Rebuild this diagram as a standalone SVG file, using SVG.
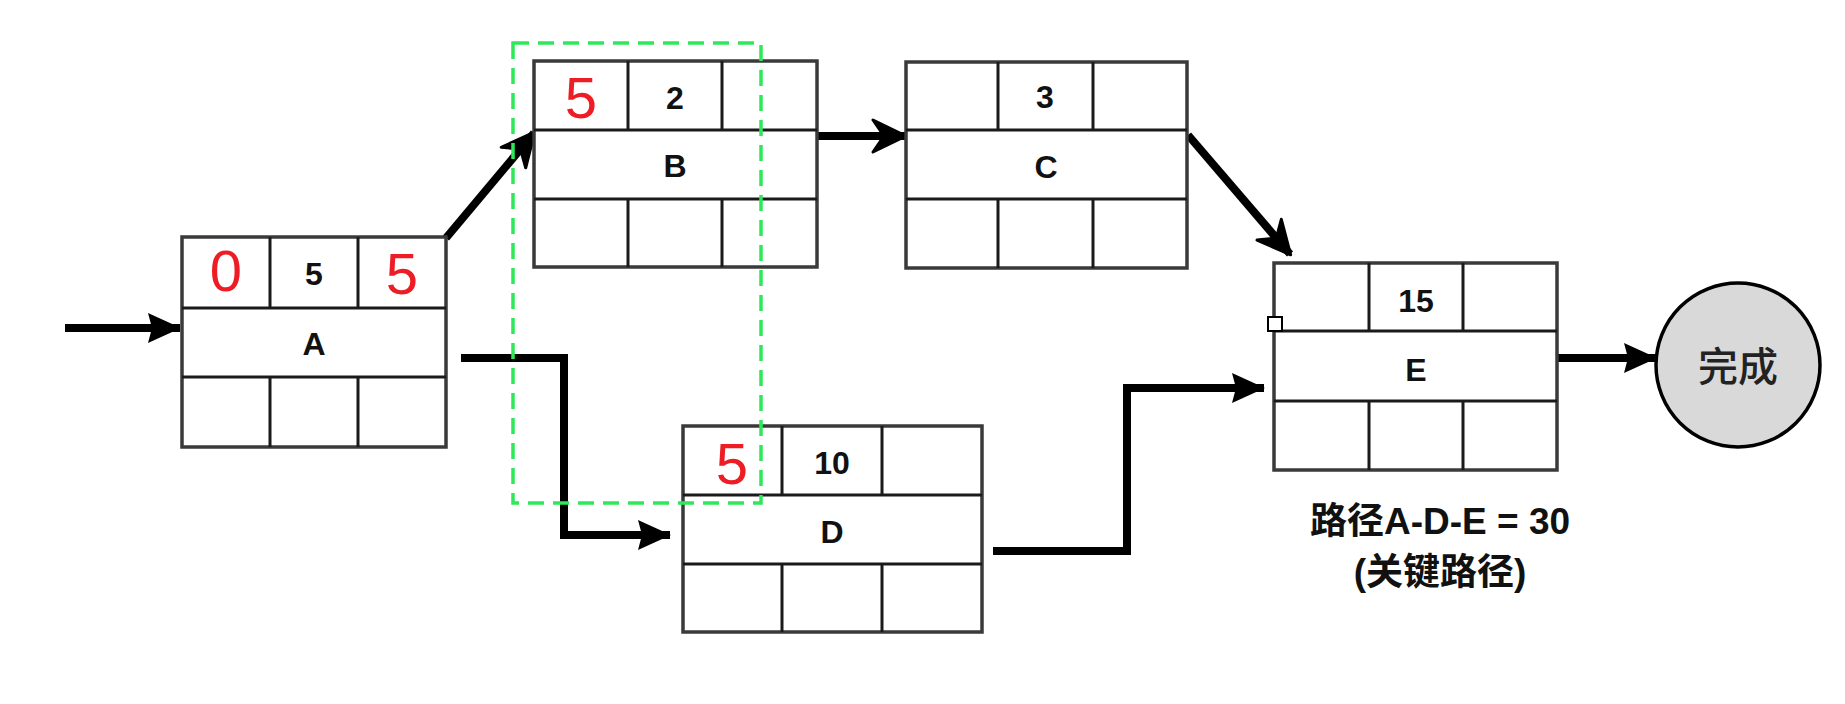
<svg xmlns="http://www.w3.org/2000/svg" width="1845" height="704" viewBox="0 0 1845 704">
<style>
.box{fill:#fff;stroke:#3a3a3a;stroke-width:3.5}
.div{stroke:#1a1a1a;stroke-width:3;fill:none}
.t{font-family:"Liberation Sans",Arial,sans-serif;font-weight:bold;font-size:32px;fill:#111;text-anchor:middle}
.r{font-family:"Liberation Sans",Arial,sans-serif;font-size:58px;fill:#ee1c24;text-anchor:middle}
.conn{fill:none;stroke:#000;stroke-width:8;stroke-linejoin:miter}
.cap{font-family:"Liberation Sans","Noto Sans CJK SC",sans-serif;font-weight:bold;font-size:37px;fill:#111;text-anchor:middle}
</style>
<defs>
<marker id="tri" markerUnits="userSpaceOnUse" markerWidth="36" markerHeight="34" refX="32" refY="16" orient="auto">
<path d="M0,1 L33,16 L0,31 L4,16 Z" fill="#000"/>
</marker>
<marker id="chev" markerUnits="userSpaceOnUse" markerWidth="40" markerHeight="40" refX="34" refY="19" orient="auto">
<path d="M2,3 L35,19 L2,35 L13,19 Z" fill="#000" stroke="#000" stroke-width="3" stroke-linejoin="round"/>
</marker>
</defs>
<rect width="1845" height="704" fill="#fff"/>

<g id="connectors">
<line class="conn" x1="65" y1="328" x2="180" y2="328" marker-end="url(#tri)"/>
<line class="conn" x1="446" y1="238" x2="534" y2="133" marker-end="url(#chev)"/>
<line class="conn" x1="818" y1="136" x2="905" y2="136" marker-end="url(#chev)"/>
<line class="conn" x1="1188" y1="135" x2="1290" y2="254" marker-end="url(#chev)"/>
<polyline class="conn" points="461,358 564,358 564,535 670,535" marker-end="url(#tri)"/>
<polyline class="conn" points="993,551 1127,551 1127,388 1264,388" marker-end="url(#tri)"/>
<line class="conn" x1="1557" y1="358" x2="1656" y2="358" stroke-width="10" marker-end="url(#tri)"/>
</g>

<g id="node-A">
<rect class="box" x="182" y="237" width="264" height="210"/>
<path class="div" d="M182,308 H446 M182,377 H446 M270,237 V308 M358,237 V308 M270,377 V447 M358,377 V447"/>
<text class="r" x="226" y="291">0</text>
<text class="t" x="314" y="285">5</text>
<text class="r" x="402" y="294">5</text>
<text class="t" x="314" y="355">A</text>
</g>

<g id="node-B">
<rect class="box" x="534" y="61" width="283" height="206"/>
<path class="div" d="M534,130 H817 M534,199 H817 M628,61 V130 M722,61 V130 M628,199 V267 M722,199 V267"/>
<text class="r" x="581" y="118">5</text>
<text class="t" x="675" y="109">2</text>
<text class="t" x="675" y="177">B</text>
</g>

<g id="node-C">
<rect class="box" x="906" y="62" width="281" height="206"/>
<path class="div" d="M906,130 H1187 M906,199 H1187 M998,62 V130 M1093,62 V130 M998,199 V268 M1093,199 V268"/>
<text class="t" x="1045" y="108">3</text>
<text class="t" x="1046" y="178">C</text>
</g>

<g id="node-D">
<rect class="box" x="683" y="426" width="299" height="206"/>
<path class="div" d="M683,495 H982 M683,564 H982 M782,426 V495 M882,426 V495 M782,564 V632 M882,564 V632"/>
<text class="r" x="732" y="484">5</text>
<text class="t" x="832" y="474">10</text>
<text class="t" x="832" y="543">D</text>
</g>

<g id="node-E">
<rect class="box" x="1274" y="263" width="283" height="207"/>
<path class="div" d="M1274,331 H1557 M1274,401 H1557 M1369,263 V331 M1463,263 V331 M1369,401 V470 M1463,401 V470"/>
<rect x="1268" y="317" width="14" height="14" fill="#fff" stroke="#000" stroke-width="2"/>
<text class="t" x="1416" y="312">15</text>
<text class="t" x="1416" y="381">E</text>
</g>

<g id="node-done">
<circle cx="1738" cy="365" r="82" fill="#d9d9d9" stroke="#000" stroke-width="3.5"/>
<text x="1738" y="381" font-family="'Noto Sans CJK SC',sans-serif" font-weight="500" font-size="40" fill="#222" text-anchor="middle">完成</text>
</g>

<g id="highlight">
<rect x="513" y="43" width="248" height="460" fill="none" stroke="#2ee85a" stroke-width="3.5" stroke-dasharray="16,9"/>
</g>

<g id="caption">
<text class="cap" x="1440" y="534">路径A-D-E = 30</text>
<text class="cap" x="1440" y="585">(关键路径)</text>
</g>
</svg>
